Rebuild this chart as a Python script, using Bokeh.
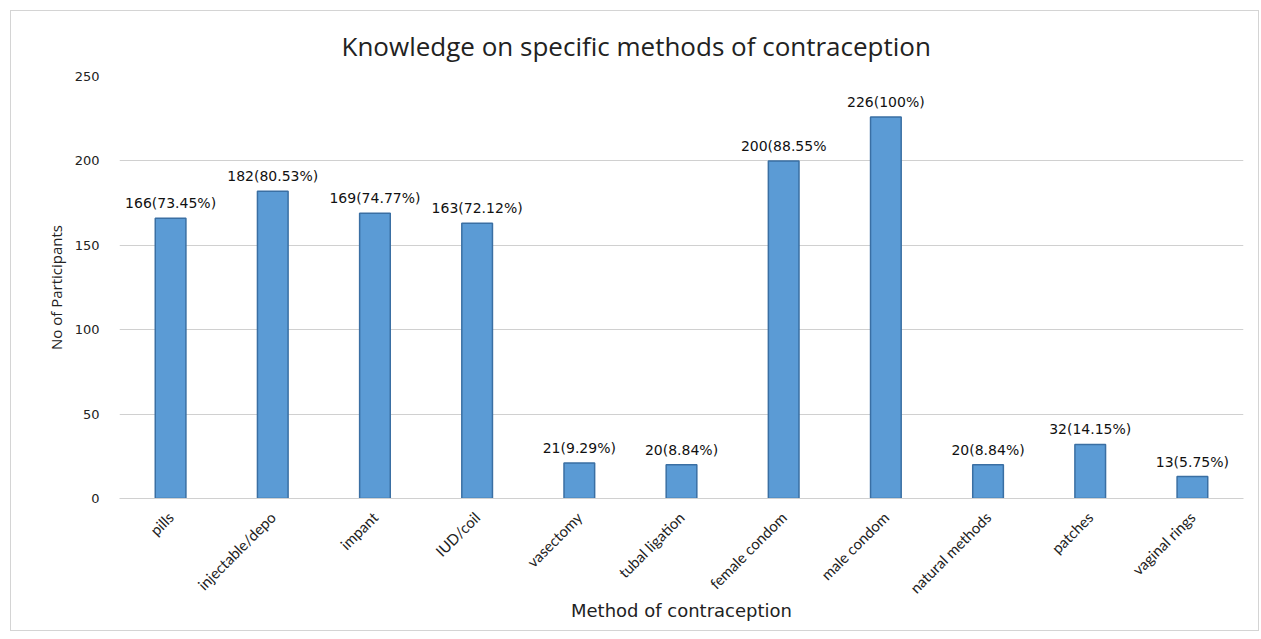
import math
from bokeh.plotting import figure
from bokeh.models import ColumnDataSource, Range1d, FixedTicker
from bokeh.core.properties import value
from bokeh.embed import file_html
from bokeh.resources import INLINE

methods = ["pills", "injectable/depo", "impant", "IUD/coil", "vasectomy",
           "tubal ligation", "female condom", "male condom", "natural methods",
           "patches", "vaginal rings"]
counts = [166, 182, 169, 163, 21, 20, 200, 226, 20, 32, 13]
labels = ["166(73.45%)", "182(80.53%)", "169(74.77%)", "163(72.12%)", "21(9.29%)",
          "20(8.84%)", "200(88.55%", "226(100%)", "20(8.84%)", "32(14.15%)", "13(5.75%)"]
y_ticks = [0, 50, 100, 150, 200, 250]

src = ColumnDataSource(dict(method=methods, count=counts, label=labels))

p = figure(x_range=methods, y_range=Range1d(0, 250),
           width=1249, height=621, output_backend="svg", toolbar_location=None,
           min_border_left=108, min_border_right=17, min_border_top=65,
           min_border_bottom=134, margin=(10, 0, 0, 10),
           styles={"border": "1px solid #d4d4d4"})
p.outline_line_color = None

# title is left-aligned with an offset so it sits centred on the whole chart
p.title.text = "Knowledge on specific methods of contraception"
p.title.align = "left"
p.title.offset = 222
p.title.text_font = "Open Sans"
p.title.text_font_style = "normal"
p.title.text_font_size = "26px"
p.title.text_color = "#222222"
p.title.standoff = 26

p.vbar(x="method", top="count", width=0.3, source=src,
       fill_color="#5B9BD5", line_color="#3A6FA3", line_width=1.5)
p.text(x="method", y="count", text="label", source=src,
       text_align="center", text_baseline="bottom", y_offset=-7,
       text_font_size="14px", text_font=value("DejaVu Sans"), text_color="#111111")

p.xgrid.grid_line_color = None
p.ygrid.grid_line_color = "#d0d0d0"
p.ygrid.ticker = FixedTicker(ticks=y_ticks)

p.yaxis.ticker = FixedTicker(ticks=y_ticks)
p.yaxis.axis_line_color = None
p.yaxis.major_tick_line_color = None
p.yaxis.minor_tick_line_color = None
p.yaxis.major_label_text_font = "DejaVu Sans"
p.yaxis.major_label_text_font_size = "13px"
p.yaxis.major_label_text_color = "#222222"
p.yaxis.major_label_standoff = 14
p.yaxis.axis_label = "No of Participants"
p.yaxis.axis_label_text_font = "Open Sans"
p.yaxis.axis_label_text_font_style = "normal"
p.yaxis.axis_label_text_font_size = "15px"
p.yaxis.axis_label_text_color = "#222222"
p.yaxis.axis_label_standoff = 6

p.xaxis.axis_line_color = "#d0d0d0"
p.xaxis.major_tick_line_color = None
p.xaxis.minor_tick_line_color = None
p.xaxis.major_label_orientation = math.pi / 4
p.xaxis.major_label_text_font = "Lato"
p.xaxis.major_label_text_font_size = "15px"
p.xaxis.major_label_text_color = "#222222"
p.xaxis.major_label_standoff = 10
p.xaxis.axis_label = "Method of contraception"
p.xaxis.axis_label_text_font = "DejaVu Sans"
p.xaxis.axis_label_text_font_style = "normal"
p.xaxis.axis_label_text_font_size = "18px"
p.xaxis.axis_label_text_color = "#222222"
p.xaxis.axis_label_standoff = -6

open("out.html", "w").write(file_html(p, INLINE))
